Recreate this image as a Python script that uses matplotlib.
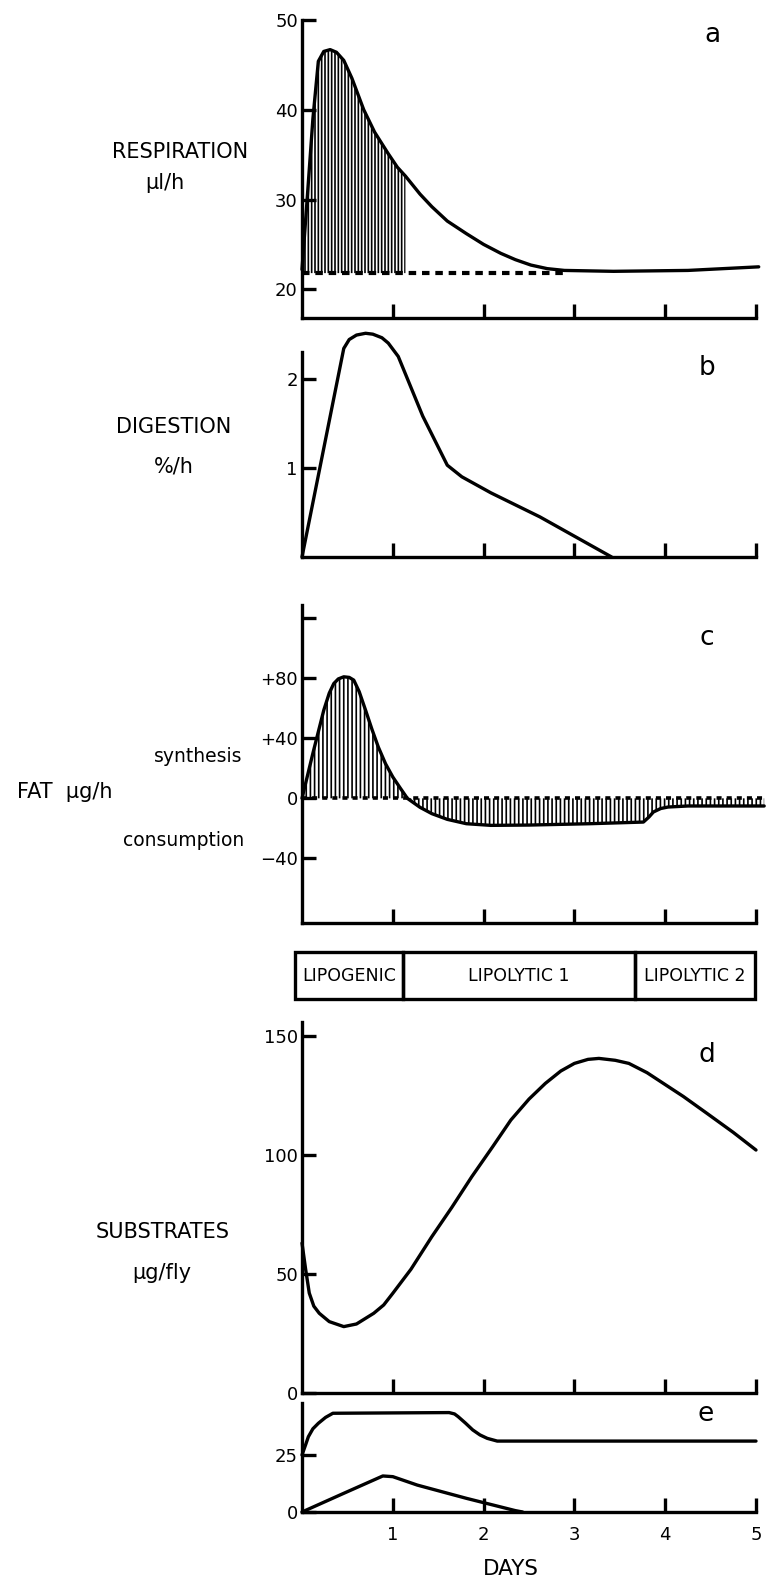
import numpy as np
import matplotlib
matplotlib.use("Agg")
import matplotlib.pyplot as plt
from matplotlib.patches import Rectangle

plt.rcParams["font.family"] = ["DejaVu Sans"]
plt.rcParams["hatch.linewidth"] = 1.2

# ---- data (days on x) ----
resp_days = [0.0, 0.06, 0.12, 0.18, 0.24, 0.31, 0.38, 0.46, 0.55, 0.68, 0.8, 0.95, 1.05, 1.14,
             1.3, 1.43, 1.6, 1.81, 2.0, 2.19, 2.35, 2.52, 2.7, 2.89, 3.43, 4.25, 5.03]
resp_vals = [22.2, 30.5, 39.0, 45.4, 46.5, 46.7, 46.4, 45.5, 43.5, 40.0, 37.5, 35.1, 33.6, 32.6,
             30.6, 29.2, 27.6, 26.2, 25.0, 24.0, 23.3, 22.7, 22.3, 22.1, 22.0, 22.1, 22.5]
resp_base = 21.8
resp_base_end = 2.9
resp_hatch_end = 1.14

dig_days = [0.0, 0.46, 0.52, 0.6, 0.7, 0.78, 0.88, 0.95, 1.06, 1.33, 1.60, 1.76, 2.08, 2.62, 3.41]
dig_vals = [0.0, 2.34, 2.44, 2.49, 2.51, 2.50, 2.46, 2.40, 2.25, 1.58, 1.03, 0.90, 0.72, 0.45, 0.0]

fat_days = [0.0, 0.12, 0.24, 0.3, 0.35, 0.4, 0.46, 0.52, 0.57, 0.63, 0.70, 0.77, 0.84, 0.92, 1.0,
            1.08, 1.16, 1.3, 1.43, 1.6, 1.81, 2.08, 2.5, 3.17, 3.76, 3.82, 3.87, 3.95, 4.03, 4.25, 5.09]
fat_vals = [0.0, 30.0, 58.7, 70.0, 76.4, 79.5, 80.9, 80.5, 78.7, 71.0, 58.7, 46.0, 34.2, 23.0, 14.2,
            7.0, 0.0, -6.0, -10.2, -14.0, -16.9, -18.0, -17.8, -16.9, -15.8, -12.5, -9.1, -6.8, -5.8, -5.1, -5.1]

phase_names = ["LIPOGENIC", "LIPOLYTIC 1", "LIPOLYTIC 2"]
phase_edges = [-0.08, 1.11, 3.67, 4.99]

sub_days = [0.0, 0.04, 0.08, 0.13, 0.19, 0.3, 0.46, 0.6, 0.79, 0.9, 1.0, 1.2, 1.43, 1.65, 1.87, 2.1,
            2.3, 2.5, 2.68, 2.85, 3.0, 3.15, 3.27, 3.45, 3.6, 3.8, 3.98, 4.2, 4.46, 4.75, 5.0]
sub_vals = [63.0, 52.0, 42.0, 36.5, 33.5, 30.0, 27.9, 29.0, 33.5, 37.0, 41.9, 52.0, 65.7, 78.0, 90.9, 103.5,
            114.7, 123.5, 130.1, 135.3, 138.5, 140.2, 140.6, 139.8, 138.5, 134.6, 130.1, 124.6, 117.5, 109.5, 102.1]

e_top_days = [0.0, 0.04, 0.07, 0.12, 0.18, 0.26, 0.34, 1.62, 1.68, 1.72, 1.8, 1.88, 1.96, 2.04, 2.15, 5.0]
e_top_vals = [25.0, 29.5, 33.0, 36.5, 38.9, 41.5, 43.3, 43.6, 43.0, 41.8, 39.0, 36.0, 33.8, 32.3, 31.1, 31.1]
e_low_days = [0.0, 0.46, 0.89, 1.00, 1.27, 1.81, 2.35, 2.43]
e_low_vals = [0.0, 8.2, 15.8, 15.5, 11.8, 6.0, 0.6, 0.0]

day_ticks = [1, 2, 3, 4, 5]

W, H = 770, 1582
LW = 2.4
fig = plt.figure(figsize=(W / 100, H / 100), dpi=100)


def make_ax(top, bottom, ylim, yticks, ylabels):
    ax = fig.add_axes([302 / W, 1 - bottom / H, 454 / W, (bottom - top) / H])
    ax.set_xlim(0, 5)
    ax.set_ylim(*ylim)
    for s in ("top", "right"):
        ax.spines[s].set_visible(False)
    for s in ("left", "bottom"):
        ax.spines[s].set_linewidth(LW)
        ax.spines[s].set_capstyle("projecting")
    ax.set_xticks(day_ticks)
    ax.set_xticklabels([])
    ax.set_yticks(yticks)
    ax.set_yticklabels(ylabels)
    ax.tick_params(direction="in", length=10, width=LW, labelsize=13, pad=3)
    ax.patch.set_visible(False)
    return ax


def curve(ax, x, y):
    ax.plot(x, y, color="black", lw=LW, clip_on=False,
            solid_joinstyle="round", solid_capstyle="round")


def ftext(x, y, s, **kw):
    kw.setdefault("ha", "center")
    kw.setdefault("va", "center")
    fig.text(x / W, 1 - y / H, s, **kw)


# a respiration
ax = make_ax(20, 318, (16.8, 50), [20, 30, 40, 50], ["20", "30", "40", "50"])
rd = np.array(resp_days)
ax.fill_between(resp_days, resp_base, resp_vals, where=rd <= resp_hatch_end + 1e-9,
                facecolor="none", edgecolor="black", hatch="|||||", linewidth=0)
curve(ax, resp_days, resp_vals)
ax.plot([0, resp_base_end], [resp_base, resp_base], color="black", lw=3,
        ls=(0, (1.8, 1.4)))

# b digestion
ax = make_ax(352, 557, (0, 2.3), [1, 2], ["1", "2"])
curve(ax, dig_days, dig_vals)

# c fat
ax = make_ax(605, 923, (-83, 128.7), [-40, 0, 40, 80, 120], ["\u221240", "0", "+40", "+80", ""])
ax.fill_between(fat_days, 0, fat_vals, facecolor="none", edgecolor="black",
                hatch="||||", linewidth=0, clip_on=False)
curve(ax, fat_days, fat_vals)
ax.plot([0, 5.1], [0, 0], color="black", lw=2.6, ls=(0, (1.4, 1.4)), clip_on=False)

# phase band
bax = fig.add_axes([302 / W, 1 - 999 / H, 454 / W, 47 / H])
bax.set_xlim(0, 5)
bax.set_ylim(0, 1)
bax.axis("off")
for name, x0, x1 in zip(phase_names, phase_edges[:-1], phase_edges[1:]):
    bax.add_patch(Rectangle((x0, 0), x1 - x0, 1, facecolor="none", edgecolor="black",
                            lw=LW, clip_on=False))
    bax.text((x0 + x1) / 2, 0.5, name, ha="center", va="center", fontsize=12.5)

# d substrates
ax = make_ax(1022, 1393, (0, 155.9), [0, 50, 100, 150], ["0", "50", "100", "150"])
curve(ax, sub_days, sub_vals)

# e
ax = make_ax(1403, 1512, (0, 47.8), [0, 25], ["0", "25"])
curve(ax, e_top_days, e_top_vals)
curve(ax, e_low_days, e_low_vals)
ax.set_xticklabels([str(d) for d in day_ticks])
ax.tick_params(axis="x", pad=10)

# labels
ftext(180, 152, "RESPIRATION", fontsize=15)
ftext(165, 183, "\u00b5l/h", fontsize=15)
ftext(174, 427, "DIGESTION", fontsize=15)
ftext(174, 467, "%/h", fontsize=15)
ftext(65, 792, "FAT  \u00b5g/h", fontsize=15)
ftext(242, 757, "synthesis", fontsize=13.5, ha="right")
ftext(244, 840, "consumption", fontsize=13.5, ha="right")
ftext(163, 1232, "SUBSTRATES", fontsize=15)
ftext(162, 1273, "\u00b5g/fly", fontsize=15)
ftext(511, 1569, "DAYS", fontsize=15.5)
for letter, (x, y) in zip("abcde", [(712, 35), (707, 368), (707, 638), (707, 1055), (706, 1414)]):
    ftext(x, y, letter, fontsize=19)

fig.savefig("out.png", dpi=100, facecolor="white")
